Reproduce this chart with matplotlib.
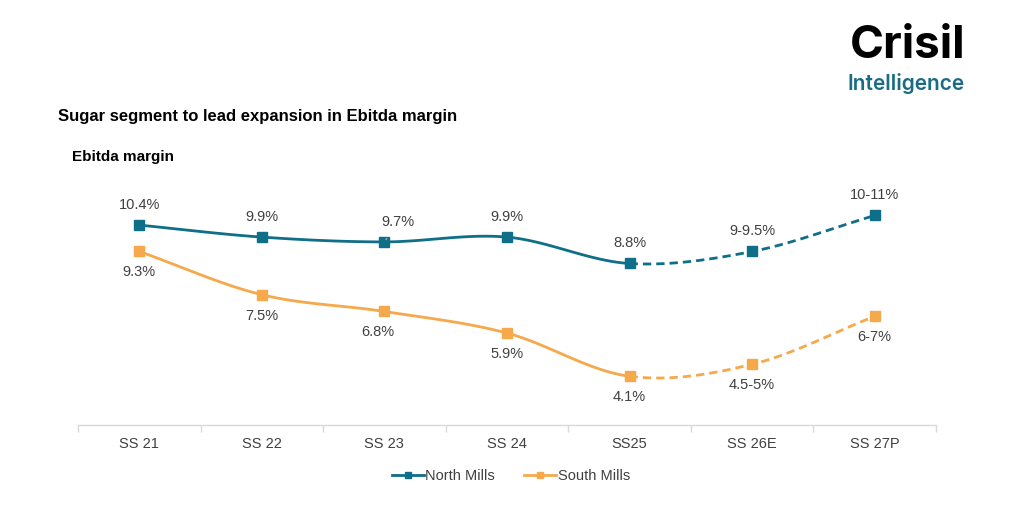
import numpy as np
import matplotlib
matplotlib.use("Agg")
import matplotlib.pyplot as plt
from matplotlib.lines import Line2D

plt.rcParams['font.family'] = ['Liberation Sans', 'DejaVu Sans']

# data
years = ["SS 21", "SS 22", "SS 23", "SS 24", "SS25", "SS 26E", "SS 27P"]
north = [10.4, 9.9, 9.7, 9.9, 8.8, 9.3, 10.8]
south = [9.3, 7.5, 6.8, 5.9, 4.1, 4.6, 6.6]
north_labels = ["10.4%", "9.9%", "9.7%", "9.9%", "8.8%", "9-9.5%", "10-11%"]
south_labels = ["9.3%", "7.5%", "6.8%", "5.9%", "4.1%", "4.5-5%", "6-7%"]
n_actual = 5  # first five are actuals, rest dashed

NORTH_C = "#0f6e88"
SOUTH_C = "#f5a94b"
TEXT_C = "#404040"


def catmull_rom(xs, ys, steps=30):
    # smooth curve through the points, like excel's smoothed line
    px = np.r_[2 * xs[0] - xs[1], xs, 2 * xs[-1] - xs[-2]]
    py = np.r_[2 * ys[0] - ys[1], ys, 2 * ys[-1] - ys[-2]]
    segs = []
    for i in range(1, len(px) - 2):
        t = np.linspace(0, 1, steps)[:, None]
        p0, p1, p2, p3 = (np.array([px[j], py[j]]) for j in range(i - 1, i + 3))
        pts = 0.5 * ((2 * p1) + (-p0 + p2) * t + (2 * p0 - 5 * p1 + 4 * p2 - p3) * t**2
                     + (-p0 + 3 * p1 - 3 * p2 + p3) * t**3)
        segs.append(pts)
    return segs


fig = plt.figure(figsize=(10.24, 5.05), dpi=100)
ax = fig.add_axes([78 / 1024, 1 - 425 / 505, 858 / 1024, (425 - 186.7) / 505])

x = np.arange(len(years), dtype=float)
for vals, color in ((north, NORTH_C), (south, SOUTH_C)):
    segs = catmull_rom(x, np.array(vals, dtype=float))
    solid = np.vstack(segs[:n_actual - 1])
    dashed = np.vstack(segs[n_actual - 1:])
    ax.plot(solid[:, 0], solid[:, 1], color=color, lw=2, solid_capstyle="round")
    ax.plot(dashed[:, 0], dashed[:, 1], color=color, lw=2, ls=(0, (3, 1.8)))
    ax.plot(x, vals, ls="none", marker="s", ms=6.5, color=color)

# data labels
lab_kw = dict(textcoords="offset pixels", ha="center", va="center",
              fontsize=10.5, color=TEXT_C)
for i, (v, s) in enumerate(zip(north, north_labels)):
    if i == 2:
        ax.annotate(s, (x[i], v), xytext=(14, 20), arrowprops=dict(
            arrowstyle="-", color="#a6a6a6", lw=1, shrinkA=6, shrinkB=2), **lab_kw)
    else:
        ax.annotate(s, (x[i], v), xytext=(0, 20), **lab_kw)
for i, (v, s) in enumerate(zip(south, south_labels)):
    if i == 2:
        ax.annotate(s, (x[i], v), xytext=(-7, -21), arrowprops=dict(
            arrowstyle="-", color="#a6a6a6", lw=1, shrinkA=6, shrinkB=2), **lab_kw)
    else:
        ax.annotate(s, (x[i], v), xytext=(0, -21), **lab_kw)

ax.set_xlim(-0.5, len(years) - 0.5)
ax.set_ylim(2.07, 12)
ax.set_xticks(x)
ax.set_xticklabels(years, fontsize=10.5, color=TEXT_C)
ax.set_xticks(np.arange(len(years) + 1) - 0.5, minor=True)
ax.tick_params(axis="x", which="major", length=0, pad=9)
ax.tick_params(axis="x", which="minor", length=5, color="#d9d9d9", width=1)
ax.set_yticks([])
for side in ("top", "right", "left"):
    ax.spines[side].set_visible(False)
ax.spines["bottom"].set_color("#d9d9d9")
ax.spines["bottom"].set_linewidth(1)

handles = [Line2D([], [], color=NORTH_C, lw=2, marker="s", ms=5),
           Line2D([], [], color=SOUTH_C, lw=2, marker="s", ms=5)]
fig.legend(handles, ["North Mills", "South Mills"], loc="center",
           bbox_to_anchor=(511 / 1024, 1 - 476 / 505), ncol=2, frameon=False,
           fontsize=10.5, handlelength=2.2, handletextpad=0.1, columnspacing=2.0,
           labelcolor=TEXT_C)

# titles
fig.text(58 / 1024, 1 - 117 / 505, "Sugar segment to lead expansion in Ebitda margin",
         fontsize=12, fontweight="bold", color="black", va="center")
fig.text(72 / 1024, 1 - 157 / 505, "Ebitda margin", fontsize=11,
         fontweight="bold", color="black", va="center")

# logo
fig.text(965 / 1024, 1 - 46 / 505, "Crisil", fontsize=33, fontweight="bold",
         family=["Inter", "Liberation Sans"], color="black", ha="right", va="center")
fig.text(965 / 1024, 1 - 83 / 505, "Intelligence", fontsize=15, fontweight="semibold",
         family=["Inter", "Liberation Sans"], color="#1b6b84", ha="right", va="center")

fig.savefig("out.png", dpi=100, facecolor="white")
